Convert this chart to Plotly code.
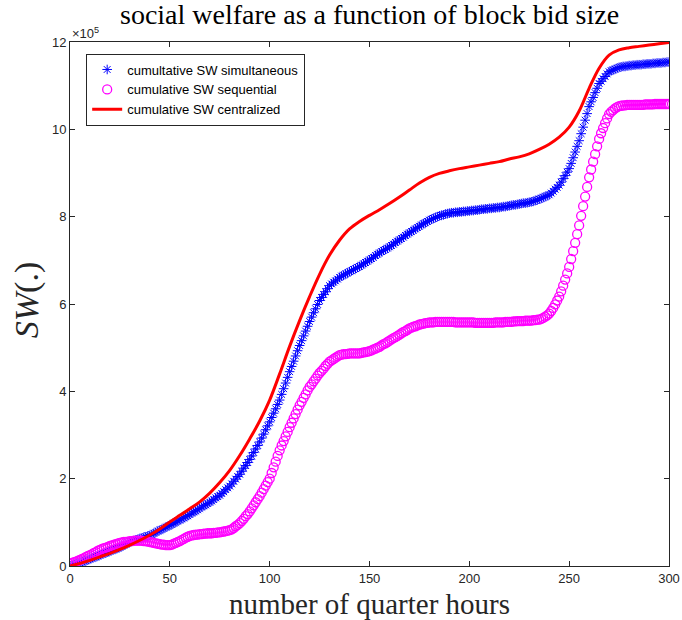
import plotly.graph_objects as go

# values in units of 1e5
quarter_hours_line = list(range(0, 301, 5))
sw_centralized = [0.00, 0.06, 0.13, 0.21, 0.29, 0.38, 0.48, 0.59, 0.71, 0.85,
                  1.01, 1.16, 1.31, 1.47, 1.67, 1.91, 2.19, 2.53, 2.91, 3.32,
                  3.80, 4.40, 5.03, 5.62, 6.17, 6.68, 7.12, 7.46, 7.72, 7.89,
                  8.03, 8.16, 8.30, 8.45, 8.61, 8.77, 8.90, 8.99, 9.05, 9.10,
                  9.14, 9.18, 9.22, 9.26, 9.32, 9.37, 9.44, 9.54, 9.66, 9.82,
                  10.05, 10.42, 10.94, 11.40, 11.70, 11.82, 11.87, 11.90, 11.93, 11.96,
                  11.99]

sw_simultaneous = [
    0.00, 0.01, 0.03, 0.04, 0.06, 0.07,
    0.09, 0.11, 0.12, 0.14, 0.16,
    0.18, 0.20, 0.21, 0.23, 0.25,
    0.27, 0.29, 0.30, 0.32, 0.34,
    0.36, 0.38, 0.39, 0.41, 0.43,
    0.45, 0.48, 0.50, 0.53, 0.55,
    0.57, 0.58, 0.60, 0.61, 0.63,
    0.64, 0.66, 0.67, 0.69, 0.70,
    0.72, 0.75, 0.77, 0.80, 0.82,
    0.84, 0.86, 0.89, 0.91, 0.93,
    0.95, 0.98, 1.00, 1.03, 1.05,
    1.08, 1.10, 1.13, 1.15, 1.18,
    1.21, 1.24, 1.26, 1.29, 1.32,
    1.35, 1.38, 1.40, 1.43, 1.46,
    1.49, 1.52, 1.56, 1.59, 1.62,
    1.66, 1.70, 1.75, 1.79, 1.83,
    1.88, 1.94, 1.99, 2.05, 2.10,
    2.17, 2.24, 2.30, 2.37, 2.44,
    2.52, 2.60, 2.68, 2.76, 2.84,
    2.93, 3.02, 3.12, 3.21, 3.30,
    3.40, 3.50, 3.60, 3.70, 3.80,
    3.93, 4.06, 4.19, 4.32, 4.45,
    4.57, 4.69, 4.81, 4.93, 5.05,
    5.16, 5.27, 5.38, 5.49, 5.60,
    5.70, 5.80, 5.89, 5.99, 6.08,
    6.15, 6.22, 6.28, 6.35, 6.42,
    6.46, 6.50, 6.53, 6.57, 6.61,
    6.64, 6.66, 6.69, 6.71, 6.74,
    6.76, 6.79, 6.81, 6.84, 6.86,
    6.89, 6.92, 6.95, 6.98, 7.01,
    7.04, 7.07, 7.11, 7.14, 7.17,
    7.20, 7.23, 7.25, 7.28, 7.31,
    7.34, 7.37, 7.41, 7.44, 7.47,
    7.50, 7.53, 7.57, 7.60, 7.63,
    7.66, 7.69, 7.72, 7.75, 7.78,
    7.81, 7.84, 7.86, 7.89, 7.92,
    7.94, 7.96, 7.98, 8.00, 8.02,
    8.03, 8.04, 8.06, 8.07, 8.08,
    8.09, 8.09, 8.10, 8.10, 8.11,
    8.11, 8.12, 8.12, 8.13, 8.13,
    8.14, 8.14, 8.15, 8.15, 8.16,
    8.17, 8.17, 8.18, 8.18, 8.19,
    8.19, 8.20, 8.20, 8.21, 8.21,
    8.22, 8.23, 8.23, 8.24, 8.25,
    8.26, 8.27, 8.27, 8.28, 8.29,
    8.30, 8.31, 8.31, 8.32, 8.33,
    8.34, 8.35, 8.37, 8.38, 8.40,
    8.42, 8.44, 8.46, 8.48, 8.50,
    8.54, 8.58, 8.63, 8.67, 8.72,
    8.79, 8.87, 8.94, 9.02, 9.10,
    9.22, 9.35, 9.48, 9.61, 9.74,
    9.90, 10.05, 10.21, 10.36, 10.52,
    10.63, 10.73, 10.84, 10.94, 11.05,
    11.10, 11.16, 11.21, 11.27, 11.32,
    11.34, 11.36, 11.38, 11.40, 11.42,
    11.43, 11.44, 11.44, 11.45, 11.46,
    11.46, 11.47, 11.47, 11.48, 11.48,
    11.48, 11.49, 11.49, 11.50, 11.50,
    11.50, 11.51, 11.51, 11.52, 11.52,
    11.52, 11.53, 11.53, 11.54, 11.54,
]

sw_sequential = [
    0.05, 0.07, 0.09, 0.10, 0.12, 0.14,
    0.16, 0.18, 0.21, 0.23, 0.25,
    0.27, 0.30, 0.32, 0.35, 0.37,
    0.39, 0.41, 0.42, 0.44, 0.46,
    0.47, 0.49, 0.50, 0.52, 0.53,
    0.54, 0.55, 0.55, 0.56, 0.57,
    0.57, 0.58, 0.58, 0.58, 0.58,
    0.58, 0.57, 0.57, 0.56, 0.55,
    0.54, 0.53, 0.52, 0.51, 0.50,
    0.49, 0.49, 0.48, 0.48, 0.48,
    0.49, 0.51, 0.53, 0.55, 0.57,
    0.60, 0.62, 0.65, 0.67, 0.69,
    0.70, 0.71, 0.72, 0.72, 0.73,
    0.73, 0.74, 0.74, 0.75, 0.75,
    0.75, 0.76, 0.76, 0.77, 0.77,
    0.78, 0.79, 0.80, 0.81, 0.82,
    0.84, 0.87, 0.91, 0.94, 0.98,
    1.03, 1.08, 1.14, 1.19, 1.25,
    1.32, 1.39, 1.46, 1.53, 1.60,
    1.68, 1.76, 1.84, 1.92, 2.00,
    2.13, 2.26, 2.39, 2.52, 2.65,
    2.76, 2.86, 2.97, 3.07, 3.18,
    3.28, 3.38, 3.48, 3.58, 3.68,
    3.76, 3.85, 3.93, 4.02, 4.10,
    4.16, 4.23, 4.29, 4.36, 4.42,
    4.47, 4.52, 4.58, 4.63, 4.68,
    4.71, 4.74, 4.77, 4.80, 4.83,
    4.84, 4.85, 4.85, 4.86, 4.87,
    4.87, 4.87, 4.87, 4.87, 4.87,
    4.88, 4.89, 4.90, 4.91, 4.92,
    4.94, 4.96, 4.98, 5.00, 5.02,
    5.05, 5.08, 5.10, 5.13, 5.16,
    5.19, 5.22, 5.24, 5.27, 5.30,
    5.33, 5.36, 5.38, 5.41, 5.44,
    5.46, 5.48, 5.49, 5.51, 5.53,
    5.54, 5.55, 5.56, 5.57, 5.58,
    5.58, 5.58, 5.59, 5.59, 5.59,
    5.59, 5.59, 5.59, 5.59, 5.59,
    5.59, 5.59, 5.58, 5.58, 5.58,
    5.58, 5.58, 5.58, 5.58, 5.58,
    5.58, 5.58, 5.57, 5.57, 5.57,
    5.57, 5.57, 5.57, 5.57, 5.57,
    5.57, 5.57, 5.58, 5.58, 5.58,
    5.58, 5.58, 5.59, 5.59, 5.59,
    5.59, 5.60, 5.60, 5.61, 5.61,
    5.61, 5.61, 5.62, 5.62, 5.62,
    5.62, 5.63, 5.63, 5.64, 5.64,
    5.66, 5.68, 5.71, 5.74, 5.78,
    5.84, 5.91, 5.99, 6.08, 6.17,
    6.29, 6.42, 6.56, 6.70, 6.85,
    7.03, 7.21, 7.40, 7.60, 7.80,
    8.02, 8.24, 8.46, 8.68, 8.90,
    9.08, 9.26, 9.43, 9.61, 9.78,
    9.91, 10.03, 10.14, 10.25, 10.35,
    10.40, 10.44, 10.48, 10.51, 10.53,
    10.54, 10.55, 10.55, 10.56, 10.56,
    10.56, 10.56, 10.56, 10.56, 10.56,
    10.56, 10.56, 10.57, 10.57, 10.57,
    10.57, 10.57, 10.58, 10.58, 10.58,
    10.58, 10.58, 10.58, 10.58, 10.58,
]

quarter_hours = list(range(len(sw_simultaneous)))
quarter_hours_seq = list(range(len(sw_sequential)))

x_ticks = [0, 50, 100, 150, 200, 250, 300]
y_ticks = [0, 2, 4, 6, 8, 10, 12]

fig = go.Figure()
fig.add_trace(go.Scatter(
    x=quarter_hours, y=sw_simultaneous, mode="markers",
    name="cumultative SW simultaneous",
    marker=dict(symbol="asterisk-open", size=8, color="#0000FF",
                line=dict(color="#0000FF", width=1)),
))
fig.add_trace(go.Scatter(
    x=quarter_hours_seq, y=sw_sequential, mode="markers",
    name="cumulative SW sequential",
    marker=dict(symbol="circle-open", size=9, color="#FF00FF",
                line=dict(color="#FF00FF", width=1.3)),
))
fig.add_trace(go.Scatter(
    x=quarter_hours_line, y=sw_centralized, mode="lines",
    name="cumulative SW centralized",
    line=dict(color="#FF0000", width=3, shape="spline"),
))

axis_common = dict(
    showline=True, linecolor="#262626", linewidth=1, mirror="ticks",
    ticks="inside", ticklen=5, tickcolor="#262626", tickwidth=1,
    showgrid=False, zeroline=False, automargin=False,
    tickfont=dict(family="Liberation Sans, Arial", size=13, color="#262626"),
)

fig.update_layout(
    width=682, height=620, autosize=False,
    margin=dict(l=70, r=13, t=42, b=54),
    paper_bgcolor="white", plot_bgcolor="white",
    showlegend=True,
    legend=dict(
        x=0.027, y=0.978, xanchor="left", yanchor="top",
        bgcolor="white", bordercolor="#262626", borderwidth=1,
        font=dict(family="Liberation Sans, Arial", size=13, color="black"),
        tracegroupgap=0, itemwidth=30,
    ),
    xaxis=dict(range=[0, 300], tickvals=x_ticks, **axis_common),
    yaxis=dict(range=[0, 12], tickvals=y_ticks, **axis_common),
)

fig.add_annotation(
    text="social welfare as a function of block bid size",
    xref="paper", yref="paper", x=0.5, y=1.052, xanchor="center", yanchor="middle",
    showarrow=False, font=dict(family="Liberation Serif, serif", size=28, color="black"),
)
fig.add_annotation(
    text="number of quarter hours",
    xref="paper", yref="paper", x=0.5, y=-0.072, xanchor="center", yanchor="middle",
    showarrow=False, font=dict(family="Liberation Serif, serif", size=29, color="#262626"),
)
fig.add_annotation(
    text="<i>SW</i>(.)",
    xref="paper", yref="paper", x=-0.072, y=0.507, xanchor="center", yanchor="middle",
    textangle=-90, showarrow=False,
    font=dict(family="Liberation Serif, serif", size=34, color="#262626"),
)
fig.add_annotation(
    text="×10<sup>5</sup>",
    xref="paper", yref="paper", x=0.0, y=1.018, xanchor="left", yanchor="middle",
    showarrow=False, font=dict(family="Liberation Sans, Arial", size=13, color="#262626"),
)

fig.write_html(
    "out.html",
    config={"displayModeBar": False, "responsive": False},
    post_script="document.body.style.margin='0';document.body.style.overflow='hidden';",
)
